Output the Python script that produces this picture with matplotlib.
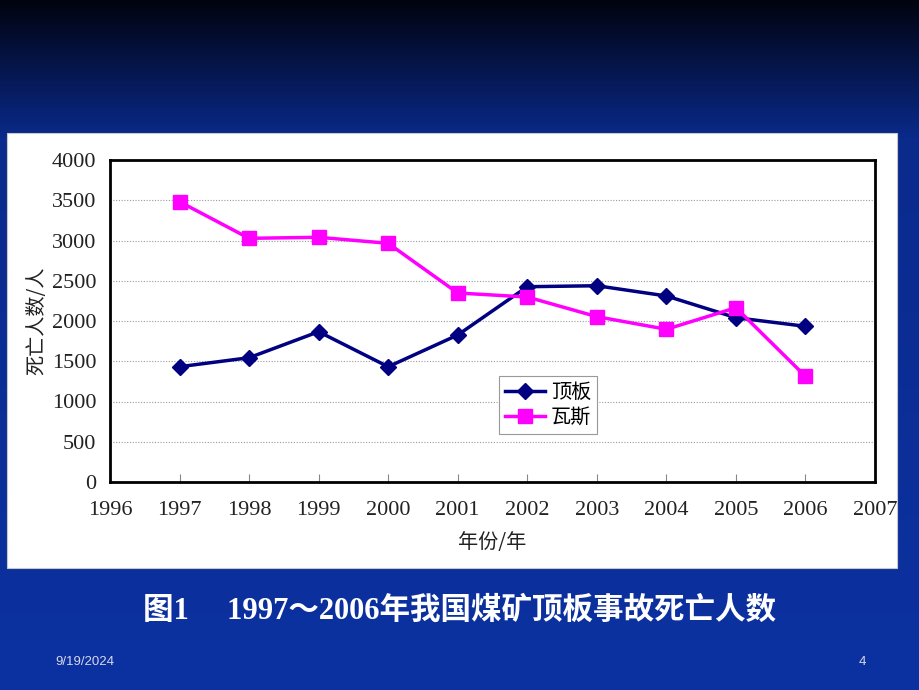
import numpy as np
import matplotlib
matplotlib.use("Agg")
import matplotlib.pyplot as plt
from matplotlib.colors import LinearSegmentedColormap
from matplotlib.patches import Rectangle

plt.rcParams['font.family'] = ['Noto Sans CJK SC', 'DejaVu Sans']

# data
years = [1997, 1998, 1999, 2000, 2001, 2002, 2003, 2004, 2005, 2006]
roof = [1432, 1544, 1867, 1432, 1826, 2426, 2438, 2311, 2041, 1934]
gas = [3482, 3027, 3040, 2965, 2348, 2298, 2054, 1897, 2165, 1313]
series_names = ['顶板', '瓦斯']
x_ticks = list(range(1996, 2008))
y_ticks = list(range(0, 4001, 500))

W, H = 920, 690
fig = plt.figure(figsize=(W / 100, H / 100), dpi=100)

# slide background: dark gradient at the top, navy below
bg = fig.add_axes([0, 0, 1, 1])
bg.set_axis_off()
cmap = LinearSegmentedColormap.from_list(
    'slide', [(0.0, '#01030f'), (0.2, '#0a2a8c'), (1.0, '#0c32a2')])
grad = np.linspace(0, 1, 256).reshape(-1, 1)
bg.imshow(grad, aspect='auto', cmap=cmap, extent=[0, 1, 0, 1], origin='upper')
bg.set_xlim(0, 1)
bg.set_ylim(0, 1)

# white chart panel
fig.patches.append(Rectangle((7 / W, 1 - 568 / H), 890 / W, 435 / H,
                             transform=fig.transFigure, facecolor='white',
                             edgecolor='#c8c8c8', linewidth=0.8, zorder=1))

ax = fig.add_axes([110 / W, 1 - 482 / H, 765 / W, 322 / H])
ax.set_zorder(2)
ax.set_facecolor('white')

ax.plot(years, roof, color='#000080', marker='D', markersize=8.5,
        linewidth=2.5, label=series_names[0], clip_on=False)
ax.plot(years, gas, color='#ff00ff', marker='s', markersize=10,
        linewidth=2.5, label=series_names[1], clip_on=False)

ax.set_xlim(1996, 2007)
ax.set_ylim(0, 4000)
ax.set_xticks(x_ticks)
ax.set_yticks(y_ticks)
ax.yaxis.grid(True, linestyle=(0, (1, 1.5)), color='#9a9a9a', linewidth=0.8)
ax.set_axisbelow(True)

num_font = 'Liberation Serif'
ax.set_xticklabels([str(v) for v in x_ticks], family=num_font, fontsize=16,
                   color='#222222')
ax.set_yticklabels([str(v) for v in y_ticks], family=num_font, fontsize=16,
                   color='#222222')
ax.tick_params(axis='x', direction='in', length=6, color='#888888', pad=14)
ax.tick_params(axis='y', length=0, pad=10)

for sp in ax.spines.values():
    sp.set_color('black')
    sp.set_linewidth(2)

ax.set_ylabel('死亡人数/人', fontsize=14.5, color='#222222', labelpad=3)
ax.set_xlabel('年份/年', fontsize=14.5, color='#222222', labelpad=8)

leg = ax.legend(loc='upper left', bbox_to_anchor=(0.508, 0.33),
                borderaxespad=0, fancybox=False, framealpha=1,
                edgecolor='#999999', fontsize=14.5, handlelength=2.0,
                borderpad=0.3, labelspacing=0.2, handletextpad=0.3)
leg.get_frame().set_linewidth(0.8)

# caption and footer
fig.text(460 / W, 1 - 611 / H, '图1\u3000 1997～2006年我国煤矿顶板事故死亡人数',
         family=['Liberation Serif', 'Noto Sans CJK SC'], fontweight='bold',
         fontsize=22, color='white', ha='center', va='center')
fig.text(55 / W, 1 - 662 / H, '9/19/2024', family='Liberation Sans',
         fontsize=9.5, color='#d8d8e8', ha='left', va='center')
fig.text(862 / W, 1 - 662 / H, '4', family='Liberation Sans',
         fontsize=9.5, color='#d8d8e8', ha='center', va='center')

fig.savefig('out.png', dpi=100)
